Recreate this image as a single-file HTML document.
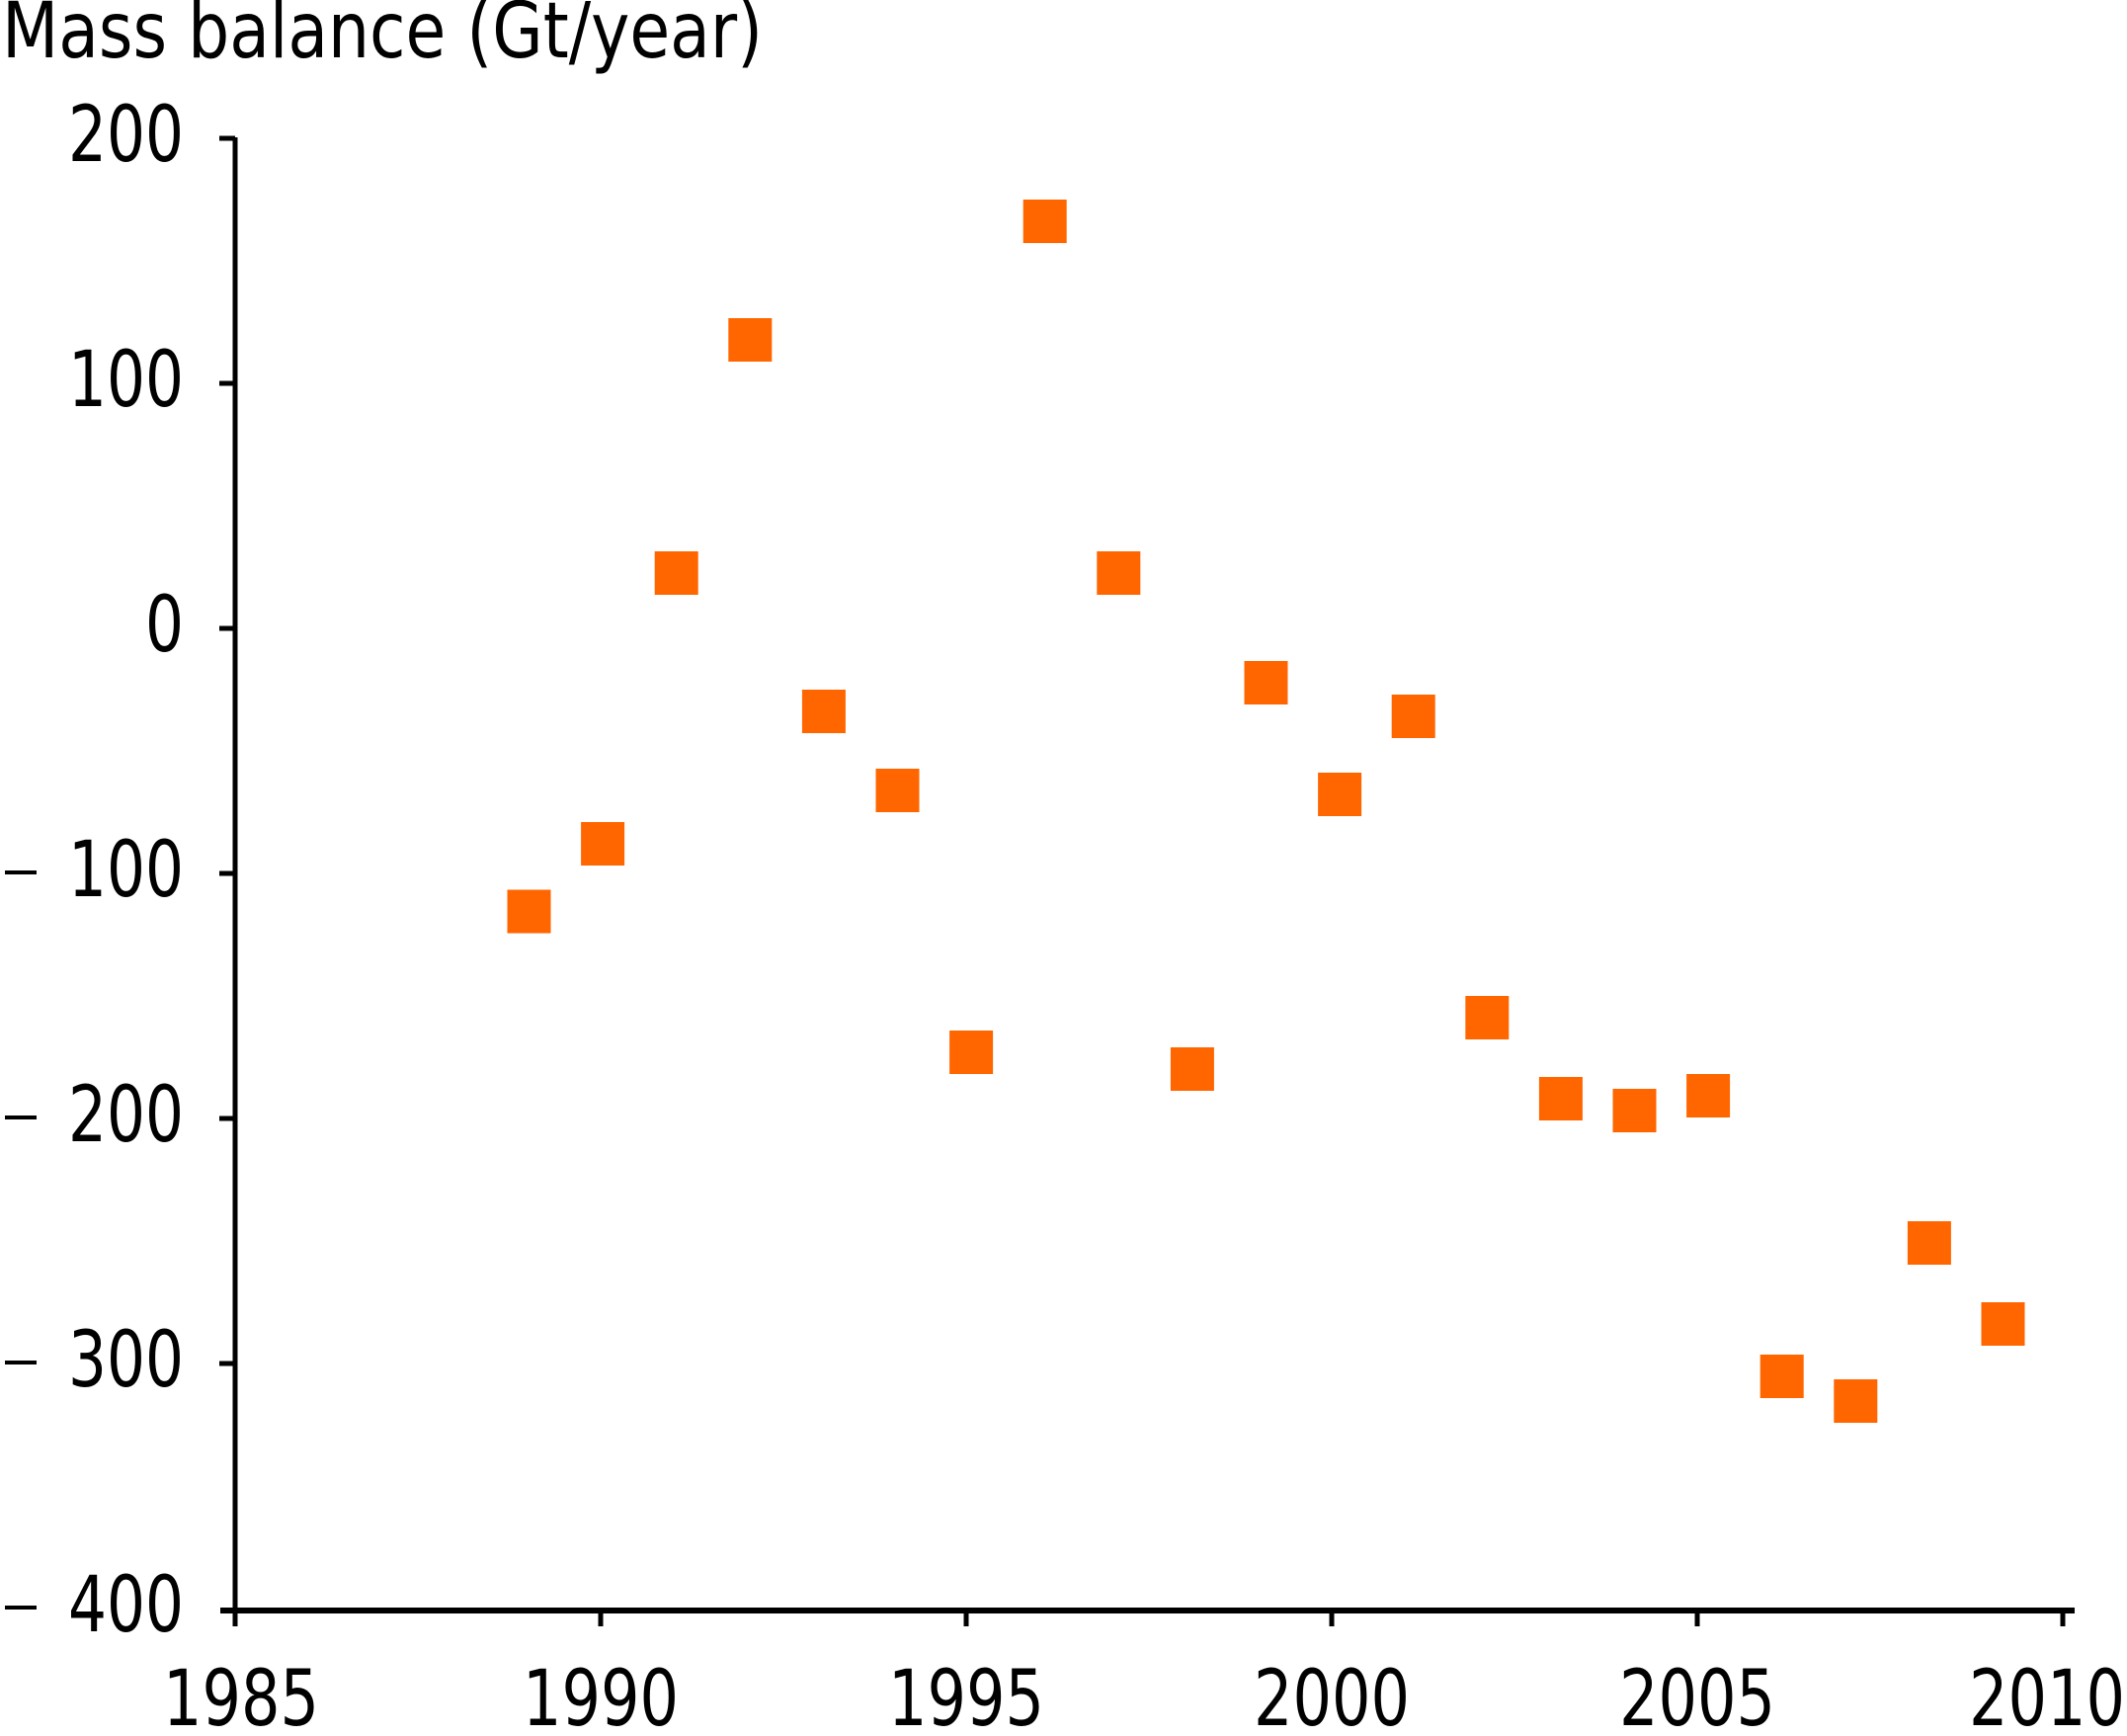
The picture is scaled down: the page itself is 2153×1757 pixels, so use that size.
<!DOCTYPE html>
<html><head><meta charset="utf-8"><style>
html,body{margin:0;padding:0;background:#fff;}
svg{display:block;}
text{font-family:"DejaVu Sans","Liberation Sans",sans-serif;fill:#000;}
</style></head><body>
<svg width="2153" height="1757" viewBox="0 0 2153 1757" xmlns="http://www.w3.org/2000/svg">
<rect width="2153" height="1757" fill="#fff"/>
<text x="2" y="58" font-size="78" textLength="770" lengthAdjust="spacingAndGlyphs">Mass balance (Gt/year)</text>
<line x1="238" y1="139" x2="238" y2="1632" stroke="#000" stroke-width="5"/>
<line x1="223" y1="1630" x2="2100" y2="1630" stroke="#000" stroke-width="6"/>
<g stroke="#000" stroke-width="5">
<line x1="222" y1="140" x2="238" y2="140"/>
<line x1="222" y1="388" x2="238" y2="388"/>
<line x1="222" y1="636" x2="238" y2="636"/>
<line x1="222" y1="884" x2="238" y2="884"/>
<line x1="222" y1="1132" x2="238" y2="1132"/>
<line x1="222" y1="1380" x2="238" y2="1380"/>
<line x1="238" y1="1630" x2="238" y2="1646"/>
<line x1="608" y1="1630" x2="608" y2="1646"/>
<line x1="978" y1="1630" x2="978" y2="1646"/>
<line x1="1348" y1="1630" x2="1348" y2="1646"/>
<line x1="1718" y1="1630" x2="1718" y2="1646"/>
<line x1="2088" y1="1630" x2="2088" y2="1646"/>
</g>
<g font-size="78">
<text x="69" y="163" textLength="117" lengthAdjust="spacingAndGlyphs">200</text>
<text x="69" y="411" textLength="117" lengthAdjust="spacingAndGlyphs">100</text>
<text x="147" y="659" textLength="39" lengthAdjust="spacingAndGlyphs">0</text>
<text x="69" y="907" textLength="117" lengthAdjust="spacingAndGlyphs">100</text>
<text x="69" y="1155" textLength="117" lengthAdjust="spacingAndGlyphs">200</text>
<text x="69" y="1403" textLength="117" lengthAdjust="spacingAndGlyphs">300</text>
<text x="69" y="1651" textLength="117" lengthAdjust="spacingAndGlyphs">400</text>
</g>
<g fill="#000">
<rect x="5" y="881" width="32" height="4"/>
<rect x="5" y="1129" width="32" height="4"/>
<rect x="5" y="1377" width="32" height="4"/>
<rect x="5" y="1625" width="32" height="4"/>
</g>
<g font-size="78">
<text x="165" y="1746" textLength="158" lengthAdjust="spacingAndGlyphs">1985</text>
<text x="529" y="1746" textLength="158" lengthAdjust="spacingAndGlyphs">1990</text>
<text x="899" y="1746" textLength="158" lengthAdjust="spacingAndGlyphs">1995</text>
<text x="1269" y="1746" textLength="158" lengthAdjust="spacingAndGlyphs">2000</text>
<text x="1639" y="1746" textLength="158" lengthAdjust="spacingAndGlyphs">2005</text>
<text x="1993" y="1746" textLength="158" lengthAdjust="spacingAndGlyphs">2010</text>
</g>
<g fill="#FF6600">
<rect x="513.5" y="900.5" width="44" height="44"/>
<rect x="588.1" y="832" width="44" height="44"/>
<rect x="662.7" y="558" width="44" height="44"/>
<rect x="737.3" y="322" width="44" height="44"/>
<rect x="811.9" y="698" width="44" height="44"/>
<rect x="886.5" y="778" width="44" height="44"/>
<rect x="961.1" y="1043" width="44" height="44"/>
<rect x="1035.7" y="202" width="44" height="44"/>
<rect x="1110.3" y="558" width="44" height="44"/>
<rect x="1184.9" y="1060" width="44" height="44"/>
<rect x="1259.5" y="669" width="44" height="44"/>
<rect x="1334.1" y="782" width="44" height="44"/>
<rect x="1408.7" y="703" width="44" height="44"/>
<rect x="1483.3" y="1008" width="44" height="44"/>
<rect x="1557.9" y="1090" width="44" height="44"/>
<rect x="1632.5" y="1102" width="44" height="44"/>
<rect x="1707.1" y="1087" width="44" height="44"/>
<rect x="1781.7" y="1371" width="44" height="44"/>
<rect x="1856.3" y="1396" width="44" height="44"/>
<rect x="1930.9" y="1236" width="44" height="44"/>
<rect x="2005.5" y="1318" width="44" height="44"/>
</g>
</svg>
</body></html>
